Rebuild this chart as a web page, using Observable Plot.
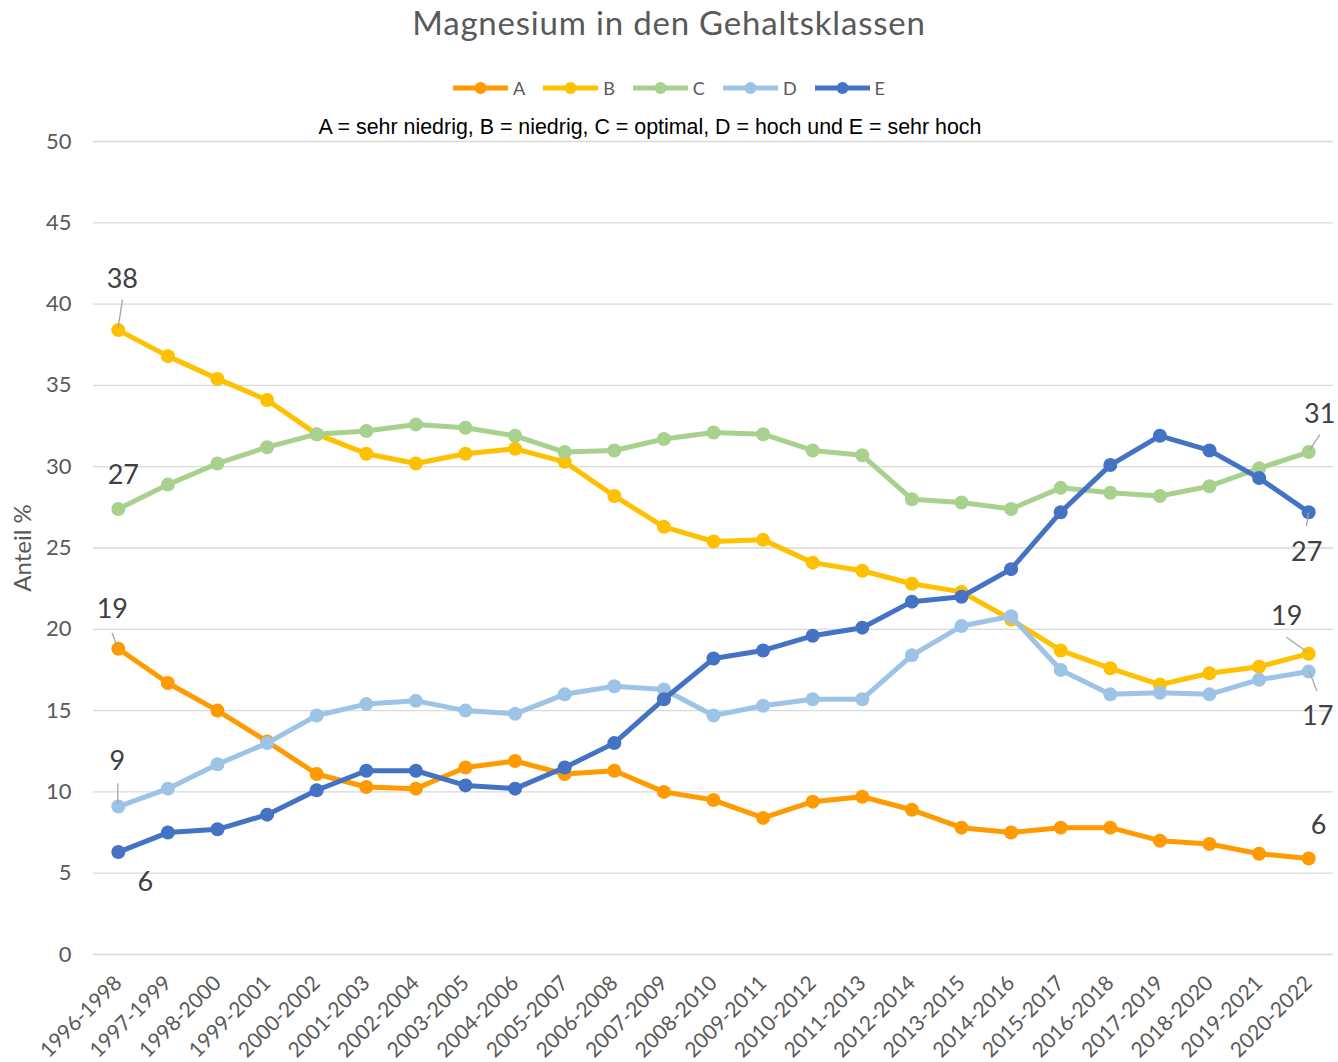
<!DOCTYPE html>
<html>
<head>
<meta charset="utf-8">
<script src="https://cdn.jsdelivr.net/npm/d3@7"></script>
<script src="https://cdn.jsdelivr.net/npm/@observablehq/plot@0.6"></script>
<style>
  body { margin: 0; background: #fff; }
  #wrap { position: relative; width: 1338px; height: 1062px; font-family: Lato, sans-serif; overflow: hidden; }
  #title { position: absolute; top: 1px; left: 0; width: 1338px; text-align: center; font-size: 33px; letter-spacing: 0.8px; line-height: 42px; color: #595959; }
  #legend { position: absolute; top: 77px; left: 0; width: 1338px; height: 22px; display: flex; justify-content: center; align-items: center; font-size: 18px; line-height: 22px; color: #595959; }
  #legend .item { display: flex; align-items: center; margin: 0 9px; }
  #legend .item span { margin-left: 5px; }
  #subtitle { position: absolute; top: 115px; left: 0; width: 1300px; text-align: center; font-family: "Liberation Sans", Arial, sans-serif; font-size: 21.4px; line-height: 24px; color: #000; z-index: 2; }
  #chart { position: absolute; top: 100px; left: 0; z-index: 1; }
</style>
</head>
<body>
<div id="wrap">
  <div id="title"></div>
  <div id="legend"></div>
  <div id="chart"></div>
  <div id="subtitle"></div>
</div>
<script>
// ---- data ----
const titleText = "Magnesium in den Gehaltsklassen";
const subtitleText = "A = sehr niedrig, B = niedrig, C = optimal, D = hoch und E = sehr hoch";
const yLabel = "Anteil %";
const categories = ["1996-1998","1997-1999","1998-2000","1999-2001","2000-2002","2001-2003","2002-2004","2003-2005","2004-2006","2005-2007","2006-2008","2007-2009","2008-2010","2009-2011","2010-2012","2011-2013","2012-2014","2013-2015","2014-2016","2015-2017","2016-2018","2017-2019","2018-2020","2019-2021","2020-2022"];
const seriesNames = ["A","B","C","D","E"];
const seriesColors = ["#FF9A00","#FFC000","#A9D18E","#9DC3E6","#4472C4"];
const valuesA = [18.8,16.7,15.0,13.1,11.1,10.3,10.2,11.5,11.9,11.1,11.3,10.0,9.5,8.4,9.4,9.7,8.9,7.8,7.5,7.8,7.8,7.0,6.8,6.2,5.9];
const valuesB = [38.4,36.8,35.4,34.1,32.0,30.8,30.2,30.8,31.1,30.3,28.2,26.3,25.4,25.5,24.1,23.6,22.8,22.3,20.6,18.7,17.6,16.6,17.3,17.7,18.5];
const valuesC = [27.4,28.9,30.2,31.2,32.0,32.2,32.6,32.4,31.9,30.9,31.0,31.7,32.1,32.0,31.0,30.7,28.0,27.8,27.4,28.7,28.4,28.2,28.8,29.9,30.9];
const valuesD = [9.1,10.2,11.7,13.0,14.7,15.4,15.6,15.0,14.8,16.0,16.5,16.3,14.7,15.3,15.7,15.7,18.4,20.2,20.8,17.5,16.0,16.1,16.0,16.9,17.4];
const valuesE = [6.3,7.5,7.7,8.6,10.1,11.3,11.3,10.4,10.2,11.5,13.0,15.7,18.2,18.7,19.6,20.1,21.7,22.0,23.7,27.2,30.1,31.9,31.0,29.3,27.2];
const yTicks = [0,5,10,15,20,25,30,35,40,45,50];

// which points carry a value label (first / last), with label styling offsets in px
const labelSpecs = [
  {series:"B", at:"first", dx:4,   dy:-51, leader:[4.7,-29.9,0.3,-2]},
  {series:"C", at:"first", dx:5,   dy:-34, leader:null},
  {series:"A", at:"first", dx:-6,  dy:-39, leader:[-5.7,-15.3,-0.3,-0.8]},
  {series:"D", at:"first", dx:-1,  dy:-45, leader:[0,-22.7,0,-1.7]},
  {series:"E", at:"first", dx:27,  dy:30,  leader:null},
  {series:"C", at:"last",  dx:11,  dy:-38, leader:[11.7,-17,1,-1]},
  {series:"E", at:"last",  dx:-2,  dy:40,  leader:[-1.7,14.3,0.3,1]},
  {series:"B", at:"last",  dx:-22, dy:-37, leader:[-21.7,-16,-0.7,-1]},
  {series:"D", at:"last",  dx:9,   dy:45,  leader:[1,0,8.7,20]},
  {series:"A", at:"last",  dx:10,  dy:-33, leader:null}
];

// ---- build table ----
const seriesValues = {A: valuesA, B: valuesB, C: valuesC, D: valuesD, E: valuesE};
const rows = seriesNames.flatMap(s => seriesValues[s].map((v, i) => ({series: s, cat: categories[i], value: v})));

// ---- header ----
document.getElementById("title").textContent = titleText;
document.getElementById("subtitle").textContent = subtitleText;
const legend = d3.select("#legend");
seriesNames.forEach((s, i) => {
  const item = legend.append("div").attr("class", "item");
  const svg = item.append("svg").attr("width", 55).attr("height", 22);
  svg.append("line").attr("x1", 0).attr("x2", 55).attr("y1", 11).attr("y2", 11)
     .attr("stroke", seriesColors[i]).attr("stroke-width", 5);
  svg.append("circle").attr("cx", 27.5).attr("cy", 11).attr("r", 6).attr("fill", seriesColors[i]);
  item.append("span").text(s);
});

// ---- marks ----
const color = {domain: seriesNames, range: seriesColors};
const seriesMarks = seriesNames.flatMap(s => {
  const d = rows.filter(r => r.series === s);
  return [
    Plot.line(d, {x: "cat", y: "value", stroke: "series", strokeWidth: 5, strokeLinejoin: "round", strokeLinecap: "round"}),
    Plot.dot(d, {x: "cat", y: "value", fill: "series", r: 7, stroke: "none"})
  ];
});

const labelMarks = labelSpecs.flatMap(spec => {
  const vals = seriesValues[spec.series];
  const idx = spec.at === "first" ? 0 : vals.length - 1;
  const d = {cat: categories[idx], value: vals[idx], series: spec.series};
  const marks = [];
  if (spec.leader) {
    const [x0, y0, x1, y1] = spec.leader;
    marks.push(Plot.dot([d], {x: "cat", y: "value", r: 1, render: (I, scales) => {
      const px = scales.x(d.cat), py = scales.y(d.value);
      return d3.create("svg:line")
        .attr("x1", px + x0).attr("y1", py + y0)
        .attr("x2", px + x1).attr("y2", py + y1)
        .attr("stroke", "#A6A6A6").attr("stroke-width", 1.3).node();
    }}));
  }
  marks.push(Plot.text([d], {x: "cat", y: "value", text: r => String(Math.round(r.value)),
    dx: spec.dx, dy: spec.dy, fontSize: 27, fill: "#404040", textAnchor: "middle", lineAnchor: "middle"}));
  return marks;
});

const chart = Plot.plot({
  width: 1338,
  height: 962,
  marginTop: 41,
  marginBottom: 108,
  marginLeft: 93,
  marginRight: 5,
  style: {fontFamily: "Lato, sans-serif", fontSize: "21px", color: "#595959", background: "transparent", overflow: "visible"},
  x: {type: "point", domain: categories, padding: 0.5, round: false},
  y: {domain: [0, 50]},
  color,
  marks: [
    Plot.gridY(yTicks, {stroke: "#D9D9D9", strokeOpacity: 1, strokeWidth: 1.3}),
    Plot.axisY(yTicks, {tickSize: 0, tickPadding: 22, label: null, fontSize: 22}),
    Plot.axisX({tickSize: 0, tickRotate: -45, tickPadding: 25, textAnchor: "end", lineAnchor: "middle", label: null, fontSize: 21}),
    Plot.text([yLabel], {frameAnchor: "left", dx: -70, rotate: -90, fontSize: 24, fill: "#595959", textAnchor: "middle", lineAnchor: "middle"}),
    ...seriesMarks,
    ...labelMarks
  ]
});
document.getElementById("chart").appendChild(chart);
</script>
</body>
</html>
